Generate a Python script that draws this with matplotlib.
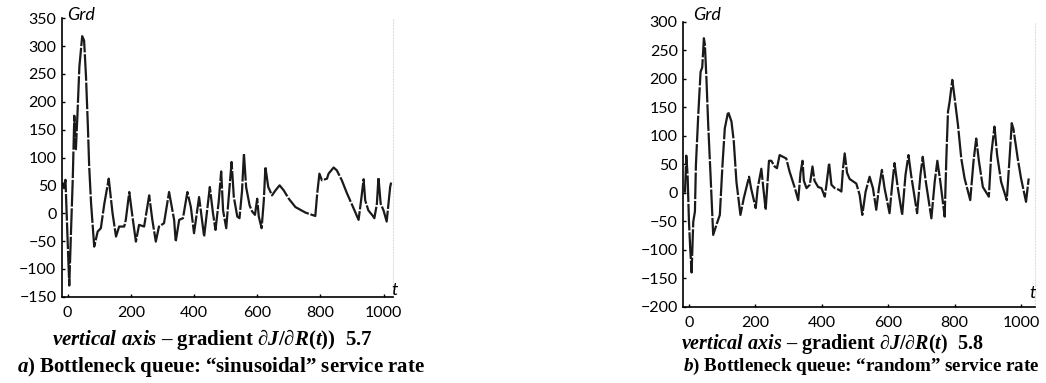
import matplotlib
matplotlib.use("Agg")
import matplotlib.pyplot as plt

# a) sinusoidal service rate
t_sin = [-16, -12, -7, -3, 5, 11, 16, 21, 26, 31, 37, 46, 52, 58, 61, 64, 68, 74, 84, 95,
         105, 116, 130, 142, 153, 163, 179, 184, 195, 205, 216, 226, 242, 258, 268, 279, 289, 305, 321, 337,
         342, 353, 365, 379, 390, 400, 416, 432, 450, 460, 468, 478, 486, 492, 502, 510, 519, 526, 537, 544,
         552, 558, 565, 576, 584, 593, 600, 605, 614, 621, 626, 635, 647, 658, 671, 684, 700, 721, 753, 784,
         790, 797, 805, 821, 826, 842, 852, 868, 884, 905, 921, 929, 937, 942, 952, 965, 971, 979, 984, 991,
         1000, 1010, 1021, 1024]
grd_sin = [55, 45, 60, -5, -130, -25, 60, 175, 115, 178, 263, 318, 310, 245, 200, 155, 85, 18, -60, -33,
           -27, 17, 62, 0, -42, -24, -24, -12, 38, -6, -51, -21, -24, 32, -12, -51, -24, -18, 38, -12,
           -51, -12, -9, 38, 11, -36, 29, -42, 47, 0, -30, 20, 75, 5, -27, 30, 92, 29, -6, -9,
           40, 107, 47, 14, 3, -3, 26, -6, -27, 23, 83, 47, 32, 41, 50, 41, 26, 11, 1, -5,
           35, 71, 59, 62, 71, 82, 77, 59, 36, 9, -12, 23, 61, 23, 5, -4, -9, 17, 64, 17,
           5, -15, 47, 55]

# b) random service rate
t_rnd = [-12, -8, -4, 0, 4, 8, 13, 18, 21, 28, 35, 40, 45, 48, 53, 58, 65, 73, 83, 93,
         101, 108, 118, 128, 135, 143, 155, 165, 181, 187, 201, 207, 218, 224, 231, 241, 248, 258, 265, 273,
         283, 293, 303, 319, 329, 336, 342, 346, 354, 364, 372, 378, 389, 399, 409, 414, 422, 429, 439, 452,
         459, 464, 469, 476, 484, 504, 514, 522, 532, 544, 554, 564, 572, 581, 589, 604, 612, 619, 629, 642,
         652, 661, 669, 687, 697, 704, 712, 730, 740, 748, 757, 770, 775, 780, 785, 793, 800, 810, 820, 830,
         847, 857, 865, 873, 885, 903, 910, 920, 928, 940, 957, 966, 972, 977, 990, 1000, 1015, 1023]
grd_rnd = [0, 65, 30, -50, -100, -140, -51, -33, 49, 136, 212, 220, 271, 260, 195, 119, 31, -74, -56, -39,
           49, 113, 142, 125, 90, 19, -39, -10, 28, 8, -27, 8, 42, 8, -30, 56, 56, 46, 43, 66,
           63, 60, 37, 8, -13, 35, 56, 21, 8, 14, 46, 21, 10, 8, -7, 14, 52, 14, 8, 5,
           2, 43, 69, 35, 24, 16, -4, -39, 2, 28, 8, -30, 8, 40, 8, -36, 14, 52, 8, -39,
           31, 66, 31, -36, 31, 63, 24, -45, 19, 56, 19, -42, 60, 142, 160, 198, 166, 119, 60, 25,
           -13, 56, 95, 56, 10, -7, 66, 116, 66, 19, -13, 66, 122, 112, 60, 25, -16, 25]

x_ticks = [0, 200, 400, 600, 800, 1000]
y_ticks_sin = list(range(-150, 351, 50))
y_ticks_rnd = list(range(-200, 301, 50))

W, H = 1046, 383

plt.rcParams['mathtext.fontset'] = 'custom'
plt.rcParams['mathtext.it'] = 'Liberation Serif:italic:bold'
plt.rcParams['mathtext.rm'] = 'Liberation Serif:bold'
plt.rcParams['mathtext.bf'] = 'Liberation Serif:bold'

fig = plt.figure(figsize=(W / 100, H / 100), dpi=100)


def px(x, y):
    return x / W, 1 - y / H


def setup(ax, xlim, ylim, yticks):
    ax.set_xlim(*xlim)
    ax.set_ylim(*ylim)
    ax.set_xticks(x_ticks)
    ax.set_yticks(yticks)
    ax.spines['top'].set_visible(False)
    ax.spines['right'].set_color('#e0e0e0')
    ax.spines['right'].set_linestyle(':')
    ax.spines['left'].set_linewidth(1.2)
    ax.spines['bottom'].set_linewidth(1.2)
    ax.tick_params(direction='in', length=2.5, width=1, labelsize=11.5, pad=4)
    ax.tick_params(axis='x', pad=7)
    for lab in ax.get_xticklabels() + ax.get_yticklabels():
        lab.set_family('Lato')


ax1 = fig.add_axes([62 / W, 1 - 296.7 / H, 331 / W, 278.4 / H])
setup(ax1, (-18, 1030), (-150, 350), y_ticks_sin)
ax1.plot(t_sin, grd_sin, color='#1a1a1a', lw=1.6, dashes=(12, 0.8))

ax2 = fig.add_axes([683.3 / W, 1 - 306.7 / H, 351.7 / W, 285 / H])
setup(ax2, (-17, 1042), (-200, 300), y_ticks_rnd)
ax2.plot(t_rnd, grd_rnd, color='#1a1a1a', lw=1.6, dashes=(12, 0.8))

# axis names
for (gx, gy), (tx, ty) in [((67, 15), (395, 290)), ((693, 15), (1033, 293))]:
    fig.text(*px(gx, gy), 'Grd', family='Lato', style='italic', fontsize=13, va='center', ha='left')
    fig.text(*px(tx, ty), 't', family='Lato', style='italic', fontsize=13, va='center', ha='center')

cap = dict(family='Liberation Serif', weight='bold', va='center')
fig.text(*px(212, 339), r"$\mathit{vertical\ axis}$ – gradient ∂$\mathit{J}$/∂$\mathit{R}$($\mathit{t}$))  5.7",
         ha='center', fontsize=15, **cap)
fig.text(*px(17, 367), r"$\mathit{a)}$ Bottleneck queue: “sinusoidal” service rate", ha='left',
         fontsize=15, **cap)
fig.text(*px(681, 344), r"$\mathit{vertical\ axis}$ – gradient ∂$\mathit{J}$/∂$\mathit{R}$($\mathit{t}$)  5.8",
         ha='left', fontsize=14.5, **cap)
fig.text(*px(1040, 366), r"$\mathit{b)}$ Bottleneck queue: “random” service rate", ha='right',
         fontsize=13.8, **cap)

fig.savefig('out.png', dpi=100)
